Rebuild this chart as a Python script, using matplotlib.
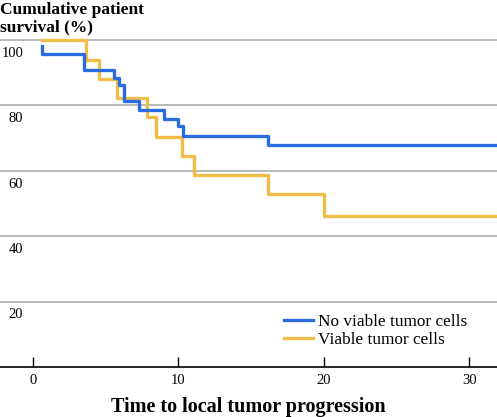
import matplotlib.pyplot as plt
from matplotlib.transforms import offset_copy

plt.rcParams["font.family"] = ["Liberation Serif", "DejaVu Serif"]

# Kaplan-Meier steps (time, cumulative survival %)
no_viable_t = [0.6, 0.6, 3.53, 5.57, 5.92, 6.26, 7.32, 9.02, 10.0, 10.28, 16.15, 31.8]
no_viable_s = [98.0, 95.6, 90.9, 88.3, 86.1, 81.3, 78.7, 75.7, 73.6, 70.7, 68.0, 68.0]

viable_t = [0.6, 3.65, 4.54, 5.80, 7.83, 8.44, 10.23, 11.08, 16.13, 19.98, 31.8]
viable_s = [100.0, 93.9, 88.1, 82.3, 76.4, 70.3, 64.5, 58.6, 53.0, 46.2, 46.2]

y_ticks = [20, 40, 60, 80, 100]
x_ticks = [0, 10, 20, 30]

blue = "#2b6be0"
yellow = "#f0bd48"

fig = plt.figure(figsize=(4.97, 4.17), dpi=100)
ax = fig.add_axes([0.0, 0.12, 1.0, 0.80])

ax.plot(no_viable_t, no_viable_s, drawstyle="steps-post", color=blue, lw=2.4,
        label="No viable tumor cells", clip_on=False, zorder=4)
ax.plot(viable_t, viable_s, drawstyle="steps-post", color=yellow, lw=2.4,
        label="Viable tumor cells", clip_on=False, zorder=3)

ax.set_xlim(-2.27, 31.9)
ax.set_ylim(0, 102)

# horizontal gridlines, labels sit just under each line
for v in y_ticks:
    ax.axhline(v, color="#b3b3b3", lw=1.3, zorder=1)
    tr = offset_copy(ax.get_yaxis_transform(), fig=fig, x=16.8, y=-9.6, units="points")
    ax.text(0, v, str(v), transform=tr, ha="right", va="center", fontsize=10.5)

ax.set_yticks([])
ax.set_xticks(x_ticks)
ax.tick_params(axis="x", direction="in", length=7, width=1, pad=5, labelsize=10.5)
for s in ["left", "right", "top"]:
    ax.spines[s].set_visible(False)
ax.spines["bottom"].set_linewidth(1.2)

ax.set_xlabel("Time to local tumor progression", fontsize=14.5, fontweight="bold", labelpad=7)
fig.text(0.0, 0.995, "Cumulative patient\nsurvival (%)", ha="left", va="top",
         fontsize=12.5, fontweight="bold", linespacing=1.1)

ax.legend(loc="lower right", bbox_to_anchor=(0.955, 0.035), frameon=False,
          fontsize=12.4, handlelength=1.7, handletextpad=0.3, labelspacing=0.12,
          borderaxespad=0)

fig.savefig("out.png", dpi=100)
